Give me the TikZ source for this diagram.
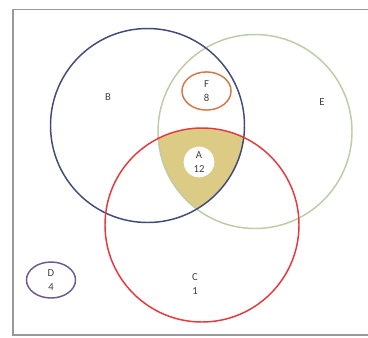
\documentclass[tikz,border=0pt]{standalone}
\usepackage{fontspec}
\setmainfont{Carlito}
\usetikzlibrary{positioning}

\definecolor{setB}{HTML}{414B78}
\definecolor{setE}{HTML}{BCCDA6}
\definecolor{setC}{HTML}{E8383C}
\definecolor{setF}{HTML}{D2784A}
\definecolor{setD}{HTML}{6E5A92}
\definecolor{setA}{HTML}{DCCB84}

\begin{document}
\begin{tikzpicture}[
    x=0.75pt, y=-0.75pt, % pixel grid, y going down
    setline/.style={line width=1.1pt}, % Style for set circles
    lbl/.style={font=\fontsize{8}{9}\selectfont, text=black!75, inner sep=0pt, align=center}, % Style for labels
    frame/.style={draw=black!40, line width=1.2pt} % Style for outer box
]

    \useasboundingbox (0,0) rectangle (368,337);
    \fill[white] (0,0) rectangle (368,337);

    % Define Circle Centres
    \coordinate (Bc) at (147.5, 125.5);
    \coordinate (Ec) at (255, 131.5);
    \coordinate (Cc) at (202, 225);
    \coordinate (Fc) at (206.5, 91);
    \coordinate (Dc) at (51, 280);
    \coordinate (Ac) at (199, 162);
    \def\radius{72.75pt} % big circles

    % Outer box (right side cut off)
    \draw[frame] (370,9.5) -- (13,9.5) -- (13,335) -- (370,335);

    % Shaded region B and E and C
    \begin{scope}
        \clip (Bc) circle (\radius);
        \clip (Ec) circle (\radius);
        \fill[setA] (Cc) circle (\radius);
    \end{scope}
    \fill[white] (Ac) circle (11.5pt);

    % Draw the sets
    \draw[setline, setE] (Ec) circle (\radius);
    \draw[setline, setB] (Bc) circle (\radius);
    \draw[setline, setC] (Cc) circle (\radius);
    \draw[setline, setF] (Fc) ellipse (18.4pt and 14.3pt);
    \draw[setline, setD] (Dc) ellipse (18.4pt and 13.5pt);

    % Labels
    \node[lbl] (labB) at (108, 97) {B};
    \node[lbl] (labE) at (322, 102) {E};
    \node[lbl] (labF) at (Fc) {F\\[1pt]8};
    \node[lbl] (labA) at (Ac) {A\\[1pt]12};
    \node[lbl] (labC) at (195, 284) {C\\[1pt]1};
    \node[lbl] (labD) at (Dc) {D\\[1pt]4};

\end{tikzpicture}
\end{document}
